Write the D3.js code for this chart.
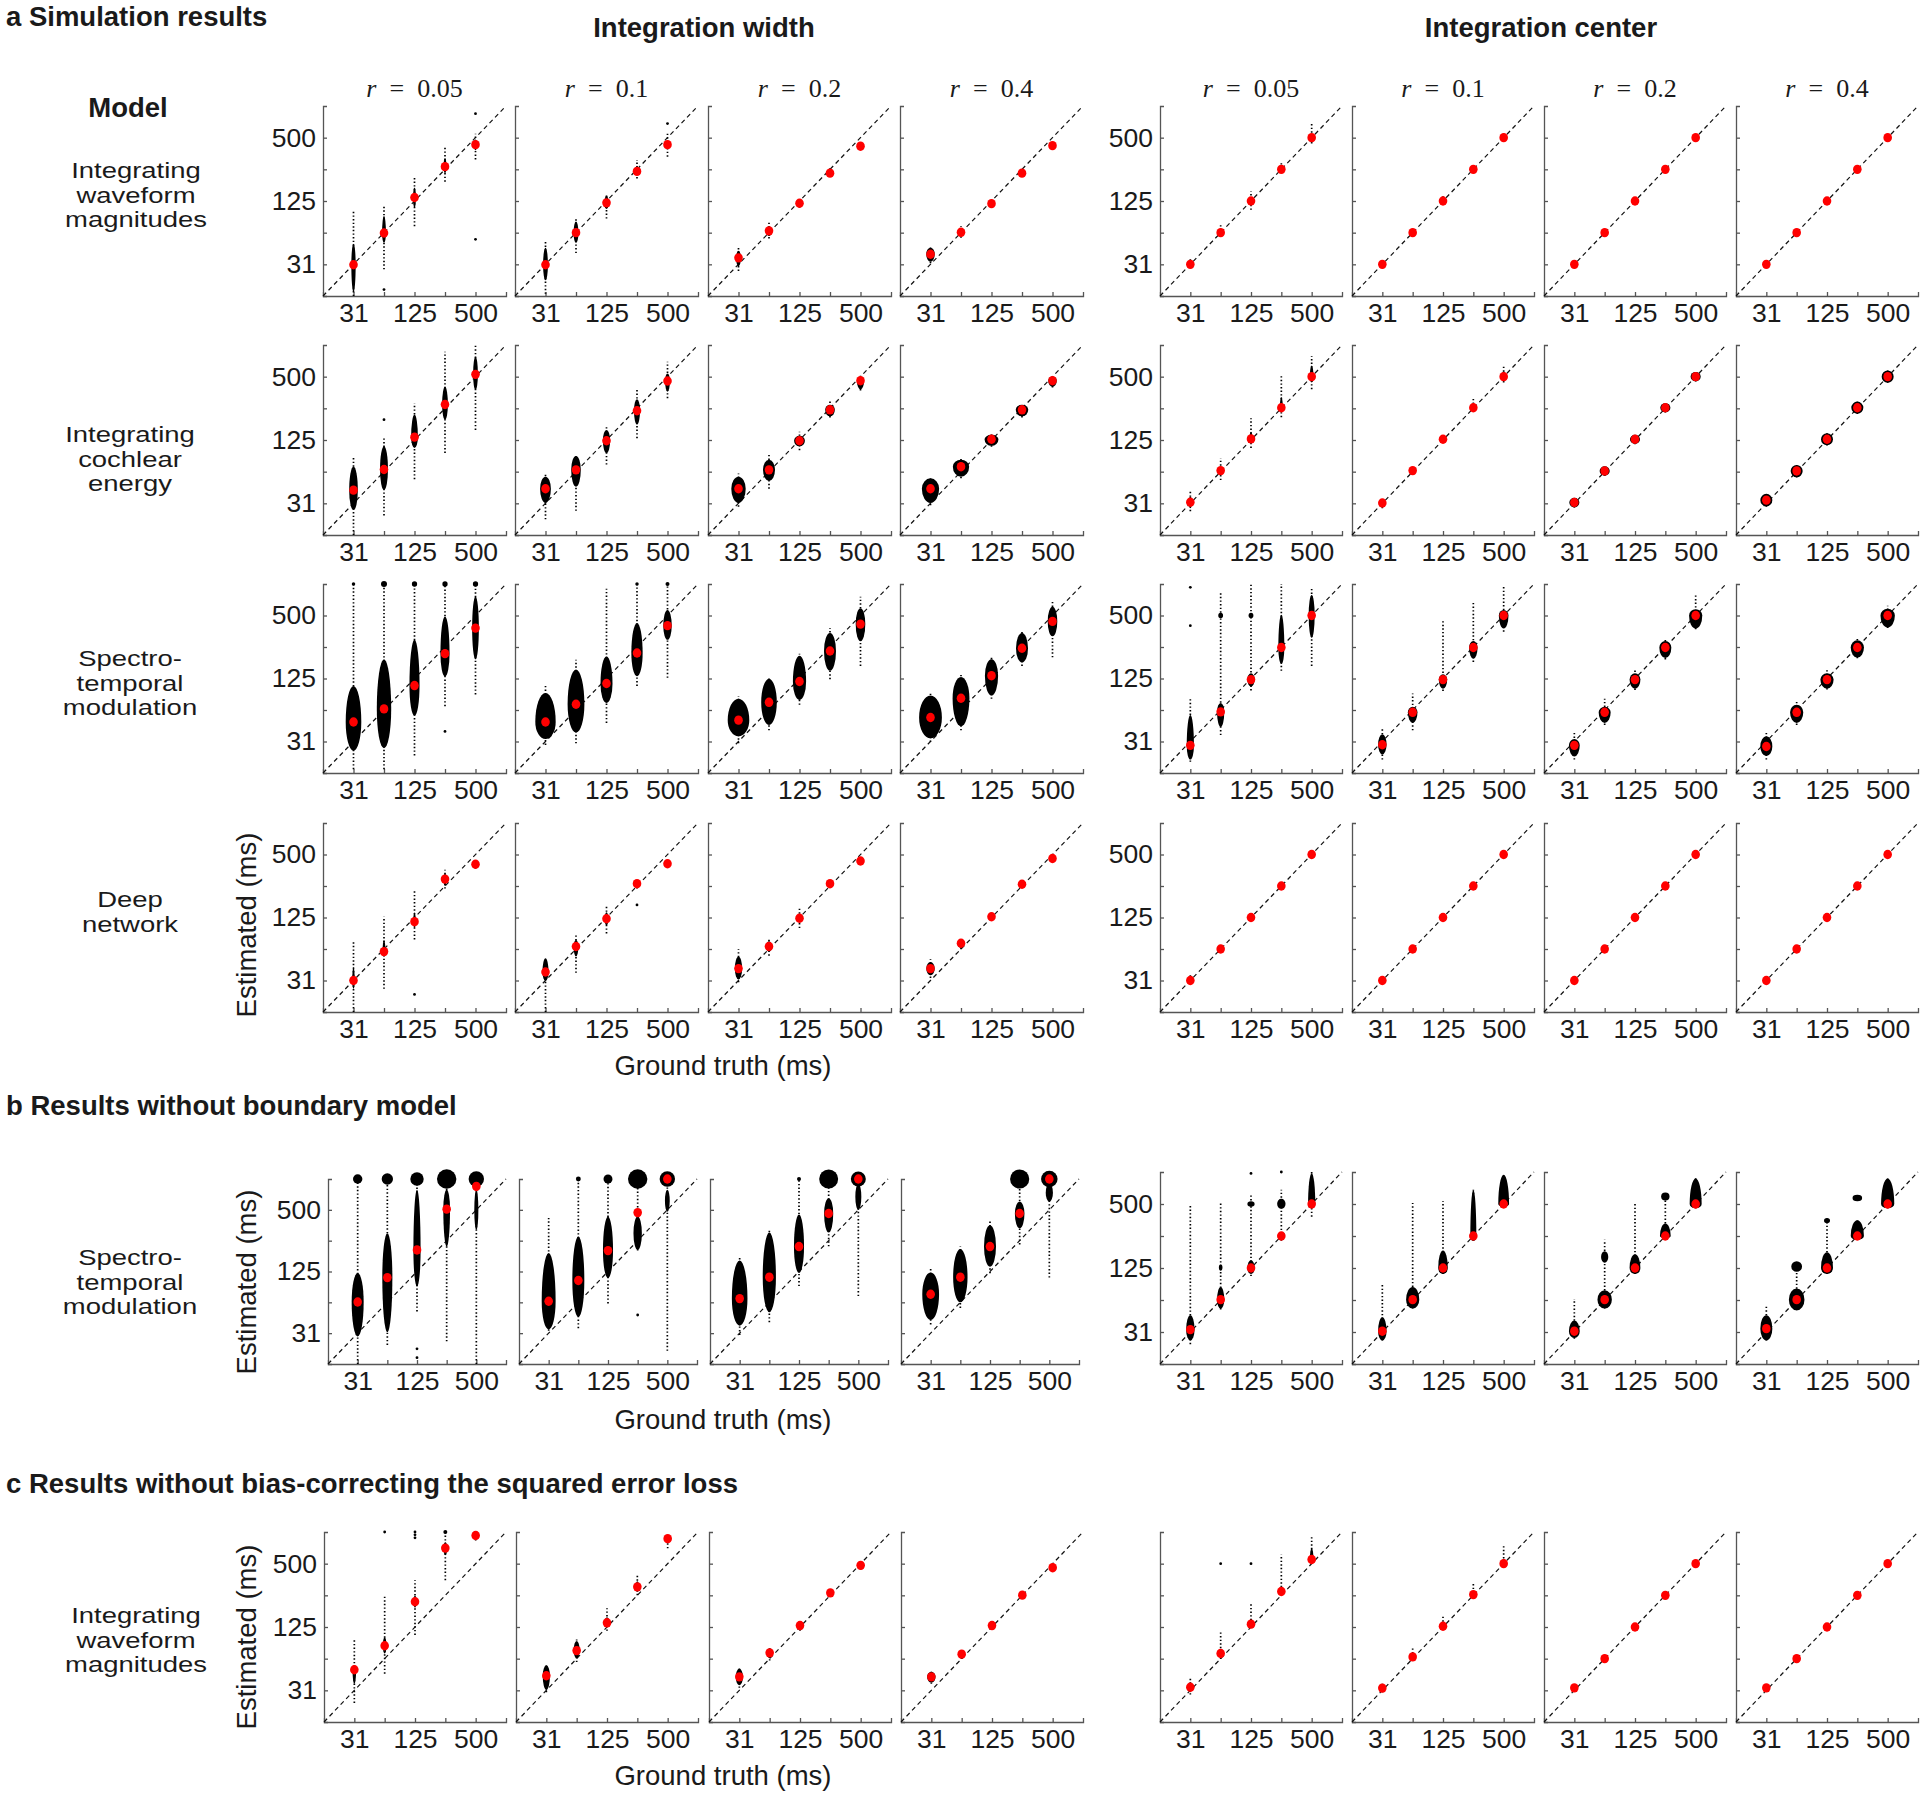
<!DOCTYPE html>
<html><head><meta charset="utf-8">
<script src="https://cdn.jsdelivr.net/npm/d3@7"></script>
<style>
body{margin:0;background:#fff}
svg{display:block}
text{font-family:"Liberation Sans",Arial,Helvetica,sans-serif;fill:#1a1a1a}
</style>
</head><body>
<svg id="chart" width="1920" height="1798"></svg>
<script>
// ---------------- DATA ----------------
const GT = [31.25, 62.5, 125, 250, 500];          // ground truth (ms)
const tickLabels = ["31", "", "125", "", "500"];
const domainMs = [15.625, 1000];
const rValues = ["0.05", "0.1", "0.2", "0.4"];
const groupTitles = ["Integration width", "Integration center"];
const sectionTitles = ["a Simulation results", "b Results without boundary model", "c Results without bias-correcting the squared error loss"];
const rowLabels = [
  ["Integrating", "waveform", "magnitudes"],
  ["Integrating", "cochlear", "energy"],
  ["Spectro-", "temporal", "modulation"],
  ["Deep", "network"],
  ["Spectro-", "temporal", "modulation"],
  ["Integrating", "waveform", "magnitudes"]
];
// panels: 0-3 integration width (r=0.05..0.4), 4-7 integration center
// median estimate per ground truth
// spread per ground truth: [range low, range high, dense low, dense high, relative density]
const a1Med = [
  [31, 62, 135, 265, 429], [31, 62.5, 120, 239, 429], [36, 65, 119, 230, 415], [39, 63, 118, 230, 420],
  [31.25, 62.5, 125, 250, 500], [31.25, 62.5, 125, 250, 500], [31.25, 62.5, 125, 250, 500], [31.25, 62.5, 125, 250, 500]
];
const a1Spread = [
  [[15.6,102,17,49,0.18],[28,110,50,90,0.16],[72,213,108,168,0.12],[191,400,230,320,0.12],[310,545,380,480,0.1]],
  [[16.4,53,22,45,0.2],[40,88,50,80,0.2],[85,147,105,140,0.18],[205,307,220,270,0.15],[330,545,390,470,0.1]],
  [[27,45,30,42,0.2],[55,78,58,72,0.2],[108,135,112,128,0.15],[212,262,218,245,0.15],[385,450,395,435,0.12]],
  [[32,47,33,45,0.35],[56,72,58,69,0.25],[112,128,113,125,0.15],[220,245,222,240,0.15],[400,435,405,428,0.1]],
  [[29,36,30,33,0.1],[61,75,61,66,0.1],[103,155,118,132,0.1],[237,300,245,265,0.1],[440,680,470,540,0.12]],
  [[30,33,30,32.5,0.1],[60,68,61,64,0.1],[115,140,120,132,0.1],[245,258,246,254,0.1],[490,560,492,520,0.1]],
  [[30,32.5,30.5,32,0.1],[61,64,61.5,63.5,0.1],[122,128,123,127,0.1],[244,256,246,254,0.1],[488,512,492,508,0.1]],
  [[30,32.5,30.5,32,0.1],[61,64,61.5,63.5,0.1],[122,128,123,127,0.1],[244,256,246,254,0.1],[488,512,492,508,0.1]]
];
const a2Med = [
  [41.7, 65.5, 133, 272, 526], [43, 65, 123, 237, 455], [43, 65, 123, 242, 458], [43, 69.7, 127, 242, 458],
  [32, 64, 128, 253, 500], [31.5, 64, 127, 253, 500], [31.8, 63.5, 127, 253, 500], [33.5, 63.5, 127, 253, 500]
];
const a2Spread = [
  [[15.6,87,27,70,0.36],[24,130,42,109,0.33],[53,280,105,218,0.28],[94,865,195,400,0.24],[156,1000,374,774,0.2]],
  [[22,61,31.5,56,0.45],[26.5,88,45,88,0.4],[73,168,94,156,0.3],[130,375,175,305,0.25],[312,693,360,536,0.2]],
  [[29,60,31.5,56,0.6],[43,90,51,81,0.5],[100,150,109,137,0.45],[205,290,210,270,0.4],[370,510,380,500,0.3]],
  [[30,56,31.5,54,0.72],[54,84,56,81,0.68],[108,142,110,140,0.58],[205,275,210,270,0.52],[395,505,400,500,0.35]],
  [[26.3,41,28,36,0.12],[52,84,58,70,0.12],[105,201,118,150,0.12],[206,520,235,320,0.12],[380,785,440,640,0.15]],
  [[28,34,29,33,0.12],[59,68,60,67,0.12],[118,133,119,132,0.12],[235,310,240,275,0.12],[440,645,470,560,0.15]],
  [[28.5,35.5,28.6,35.3,0.42],[57,70.5,57.2,70.2,0.42],[114,141,114.5,140,0.42],[228,281,229,280,0.42],[450,556,452,554,0.42]],
  [[29,39,29.2,38.5,0.5],[55,73,55.3,72.5,0.5],[111,146,111.5,145,0.5],[221,291,222,290,0.5],[437,575,438,572,0.5]]
];
const a3Med = [
  [48, 64, 107, 216, 379], [48, 71, 112, 219, 400], [50, 74, 117, 229, 414], [53, 81, 133, 243, 439],
  [28.7, 60, 122, 247, 500], [29.1, 59.4, 122, 247, 500], [28.7, 59.4, 122, 247, 500], [28, 59.4, 122, 247, 500]
];
const a3Spread = [
  [[17,1000,25.6,106,0.65],[17,1000,27,190,0.6],[23,1000,55,293,0.42],[68,1000,131,490,0.38],[88,1000,190,758,0.28]],
  [[29,110,33,91,0.85],[30,189,38,152,0.7],[47,900,73,203,0.5],[106,1000,131,423,0.47],[127,1000,293,565,0.35]],
  [[30,85,35,80,0.9],[40,130,45,124,0.65],[70,215,78,206,0.55],[123,380,148,341,0.5],[165,757,283,587,0.4]],
  [[31,90,33.5,86,0.95],[40,135,43.6,129,0.7],[80,200,86,191,0.55],[165,355,178,341,0.5],[199,700,316,607,0.4]],
  [[20,83,21,56,0.3],[36,850,43,73,0.3],[96,1000,105,140,0.3],[148,1000,172,507,0.25],[165,940,306,784,0.25]],
  [[21,42,23.5,36.6,0.35],[40,90,47,67,0.4],[95,441,100,137,0.35],[180,677,193,285,0.35],[350,940,375,565,0.4]],
  [[21,38,22.5,33,0.45],[45,80,47,67,0.5],[97,150,100,140,0.45],[190,300,196,285,0.5],[370,812,375,575,0.55]],
  [[21,38,22.7,35,0.5],[45,75,47,70,0.55],[98,150,100,140,0.55],[195,300,198,290,0.55],[380,620,385,580,0.6]]
];
const a4Med = [
  [31.25, 59, 114, 291, 403], [37.7, 66, 121.7, 263, 408], [40.6, 66, 123, 263, 433], [40.6, 71, 127, 260, 458],
  [31.25, 62.5, 125, 250, 500], [31.25, 62.5, 125, 250, 500], [31.25, 62.5, 125, 250, 500], [31.25, 62.5, 125, 250, 500]
];
const a4Spread = [
  [[15.6,76,26,42,0.1],[26,128,53,76,0.12],[77,228,100,140,0.1],[236,358,250,330,0.12],[365,452,380,430,0.1]],
  [[15.6,51,31,51,0.25],[37,88,53,76,0.2],[88,158,105,140,0.15],[236,280,245,275,0.12],[390,430,395,425,0.1]],
  [[30,62,32,53,0.3],[54,80,59,74,0.25],[99,158,112,135,0.15],[240,285,245,275,0.12],[410,455,415,450,0.1]],
  [[33,50,35,47,0.35],[62,76,64,74,0.3],[120,135,120,134,0.15],[248,272,250,270,0.12],[445,470,448,468,0.1]],
  [[29,36,30,33,0.1],[59,68,60,65,0.1],[118,135,120,130,0.1],[240,265,244,258,0.1],[480,530,488,515,0.1]],
  [[30,32.5,30.5,32,0.1],[61,64,61.5,63.5,0.1],[122,128,123,127,0.1],[244,256,246,254,0.1],[488,512,492,508,0.1]],
  [[30,32.5,30.5,32,0.1],[61,64,61.5,63.5,0.1],[122,128,123,127,0.1],[244,256,246,254,0.1],[488,512,492,508,0.1]],
  [[30,32.5,30.5,32,0.1],[61,64,61.5,63.5,0.1],[122,128,123,127,0.1],[244,256,246,254,0.1],[488,512,492,508,0.1]]
];
const bMed = [
  [63, 109, 203, 508, 846], [64, 102, 200, 470, 1000], [68, 110, 219, 460, 1000], [75, 110, 219, 460, 1000],
  [32.9, 63, 125, 250, 500], [31.8, 63, 125, 250, 500], [31.8, 63, 125, 250, 500], [33.6, 63, 125, 250, 500]
];
const bSpread = [
  [[15.6,1000,29,121,0.5],[24,1000,32,295,0.42],[51,1000,89,785,0.3],[26,1000,219,784,0.28],[15.6,1000,318,784,0.17]],
  [[33,415,34,189,0.58],[35,1000,45,274,0.5],[61,1000,108,430,0.42],[200,1000,203,430,0.35],[21,1000,480,785,0.2]],
  [[30,170,37,160,0.65],[40,320,50,300,0.55],[90,1000,121,450,0.42],[220,1000,300,650,0.38],[72,1000,500,900,0.25]],
  [[38,135,42,122,0.7],[55,220,62.5,207,0.6],[120,400,139,354,0.5],[230,1000,330,600,0.4],[109,1000,600,900,0.3]],
  [[24,490,26,45,0.35],[51,511,52,83,0.3],[105,600,110,148,0.3],[225,680,235,270,0.3],[380,1000,470,972,0.3]],
  [[26,89,26,43,0.35],[52,511,52,83,0.55],[110,530,110,183,0.4],[225,680,225,680,0.25],[470,940,470,940,0.45]],
  [[27,64,27.5,40,0.45],[52,230,52,77,0.6],[110,506,110,168,0.45],[240,600,240,327,0.45],[455,900,455,870,0.5]],
  [[26,56,26,45,0.5],[50,140,50,80,0.65],[110,370,110,176,0.5],[230,352,230,352,0.55],[455,870,455,870,0.55]]
];
const cMed = [
  [49, 83, 217, 703, 926], [43, 74.6, 137, 301, 865], [42, 71, 129, 264, 482], [42, 69, 129, 251, 458],
  [33.4, 70, 133, 272, 548], [32.8, 65, 127, 254, 500], [33, 62.5, 125, 250, 500], [33, 62.5, 125, 250, 500]
];
const cSpread = [
  [[23.7,97,36,54,0.15],[45,250,70,100,0.15],[105,348,190,250,0.12],[348,1000,600,800,0.15],[830,1000,880,980,0.12]],
  [[30,54,31.5,54,0.3],[58,95,63,92,0.25],[115,188,125,155,0.2],[251,388,270,340,0.15],[700,950,800,920,0.12]],
  [[33,52,35,50,0.3],[60,82,63,78,0.2],[115,145,118,140,0.15],[245,285,250,280,0.12],[440,520,455,510,0.12]],
  [[36,48,37,47,0.35],[62,76,63,74,0.25],[118,140,120,137,0.15],[240,262,243,258,0.1],[440,475,445,470,0.1]],
  [[28.5,42,30,37,0.12],[62,112,65,76,0.12],[124,207,128,150,0.12],[255,612,262,300,0.12],[500,890,520,700,0.15]],
  [[30,36,31,35,0.1],[60,78,62,68,0.1],[120,161,122,132,0.1],[245,330,248,265,0.1],[480,735,490,560,0.12]],
  [[31,35,31.5,34.5,0.1],[61,64,61.5,63.5,0.1],[122,128,123,127,0.1],[244,256,246,254,0.1],[488,512,492,508,0.1]],
  [[31,35,31.5,34.5,0.1],[61,64,61.5,63.5,0.1],[122,128,123,127,0.1],[244,256,246,254,0.1],[488,512,492,508,0.1]]
];
// saturated estimates piled at the top of the range: [row, panel, gt index, relative count]
const topCaps = [
  [2,0,0,0.03],[2,0,1,0.09],[2,0,2,0.07],[2,0,3,0.07],[2,0,4,0.07],[2,1,3,0.03],[2,1,4,0.04],
  [4,0,0,0.22],[4,0,1,0.32],[4,0,2,0.45],[4,0,3,0.94],[4,0,4,0.59],
  [4,1,1,0.06],[4,1,2,0.2],[4,1,3,0.94],[4,1,4,0.59],
  [4,2,2,0.04],[4,2,3,0.9],[4,2,4,0.56],
  [4,3,3,0.92],[4,3,4,0.68],
  [5,0,3,0.04]
];
// secondary dense clusters: [row, panel, gt index, low, high, relative density]
const extraClusters = [
  [2,4,1,470,530,0.2],[2,4,2,470,530,0.2],
  [4,4,1,118,135,0.15],[4,4,2,470,530,0.3],[4,4,3,450,560,0.35],
  [4,6,1,140,180,0.3],[4,6,3,540,640,0.35],
  [4,7,1,115,145,0.45],[4,7,2,330,370,0.25],[4,7,3,530,610,0.4]
];
// isolated estimates: [row, panel, gt index, value]
const isolated = [
  [0,0,1,18],[0,0,4,846],[0,0,4,54],[0,1,4,680],
  [1,0,1,195],[2,0,3,39],[2,4,0,930],[2,4,0,400],
  [3,0,2,23],[3,1,3,165],
  [4,0,2,22],[4,0,2,18],[4,1,3,47],[4,4,2,970],[4,4,3,1000],
  [5,0,1,1000],[5,0,2,1000],[5,0,2,940],[5,0,2,880],[5,4,1,500],[5,4,2,500]
];

// ---------------- LAYOUT ----------------
const rowData = [
  {med:a1Med, sp:a1Spread}, {med:a2Med, sp:a2Spread}, {med:a3Med, sp:a3Spread},
  {med:a4Med, sp:a4Spread}, {med:bMed, sp:bSpread}, {med:cMed, sp:cSpread}
];
const WL = [323, 515, 708, 900], CL = [1160, 1352, 1544, 1736];
const rowLayout = [
  {wt:106, wh:190, ct:106, ch:190, wl:WL, ww:183, lx:136, ly:178, yLabC:true},
  {wt:345, wh:190, ct:345, ch:190, wl:WL, ww:183, lx:130, ly:442, yLabC:true},
  {wt:584, wh:189, ct:584, ch:189, wl:WL, ww:183, lx:130, ly:666, yLabC:true},
  {wt:823, wh:189, ct:823, ch:189, wl:WL, ww:183, lx:130, ly:907, yLabC:true},
  {wt:1179, wh:185, ct:1172, ch:192, wl:[328,519,710,901], ww:178, lx:130, ly:1265, yLabC:true},
  {wt:1532, wh:190, ct:1532, ch:190, wl:[324,516,709,901], ww:182, lx:136, ly:1623, yLabC:false}
];
const CW = 182;

const svg = d3.select("#chart");
const densityToPx = d3.scaleLinear().domain([0, 1]).range([0, 12]);
const capRadius = d3.scaleSqrt().domain([0, 1]).range([0, 10]);
const FONT = '"Liberation Sans",Arial,Helvetica,sans-serif';

function corePath(xc, yLo, yM, yHi, hw) {
  const a1 = Math.max(0.01, yLo - yM), a2 = Math.max(0.01, yM - yHi);
  return `M${xc},${yLo}A${hw},${a1} 0 0 0 ${xc+hw},${yM}A${hw},${a2} 0 0 0 ${xc},${yHi}` +
         `A${hw},${a2} 0 0 0 ${xc-hw},${yM}A${hw},${a1} 0 0 0 ${xc},${yLo}Z`;
}
function coreCenter(m, lo, hi) {
  if (m > lo * 1.02 && m < hi / 1.02) return m;
  return Math.sqrt(lo * hi);
}

const panelInfo = {};
rowLayout.forEach((L, ri) => {
  const D = rowData[ri];
  for (let p = 0; p < 8; p++) {
    const isW = p < 4;
    const x0 = isW ? L.wl[p] : CL[p - 4];
    const w = isW ? L.ww : CW;
    const top = isW ? L.wt : L.ct;
    const h = isW ? L.wh : L.ch;
    const x = d3.scaleLog().base(2).domain(domainMs).range([x0, x0 + w]);
    const y = d3.scaleLog().base(2).domain(domainMs).range([top + h, top]);
    const showY = (p === 0) || (p === 4 && L.yLabC);
    const g = svg.append("g");

    const yAxis = d3.axisLeft(y).tickValues(GT).tickSize(-4).tickSizeOuter(-4).tickPadding(7)
      .tickFormat((d, i) => showY ? tickLabels[i] : "");
    const xAxis = d3.axisBottom(x).tickValues(GT).tickSize(-4).tickSizeOuter(-4).tickPadding(7)
      .tickFormat((d, i) => tickLabels[i]);
    [g.append("g").attr("transform", `translate(${x0},0)`).call(yAxis),
     g.append("g").attr("transform", `translate(0,${top + h})`).call(xAxis)].forEach(a => {
      a.attr("font-size", 26.5).attr("font-family", FONT);
      a.selectAll("path,line").attr("stroke", "#555").attr("stroke-width", 1.3);
      a.selectAll("text").attr("fill", "#1a1a1a");
    });

    g.append("line")
      .attr("x1", x(domainMs[0])).attr("y1", y(domainMs[0]))
      .attr("x2", x(domainMs[1])).attr("y2", y(domainMs[1]))
      .attr("stroke", "#111").attr("stroke-width", 1.2).attr("stroke-dasharray", "4.5,3.5");

    const gMarks = g.append("g");
    const gMed = g.append("g");
    const spread = D.sp[p], med = D.med[p];

    gMarks.selectAll(".wh").data(spread).join("line")
      .attr("x1", (d, i) => x(GT[i])).attr("x2", (d, i) => x(GT[i]))
      .attr("y1", d => y(d[0])).attr("y2", d => y(d[1]))
      .attr("stroke", "#000").attr("stroke-width", 1.7).attr("stroke-dasharray", "1.4,2.2");

    gMarks.selectAll(".core").data(spread).join("path")
      .attr("d", (d, i) => corePath(x(GT[i]), y(d[2]), y(coreCenter(med[i], d[2], d[3])), y(d[3]), Math.max(0.8, densityToPx(d[4]))))
      .attr("fill", "#000");

    gMed.selectAll("ellipse").data(med).join("ellipse")
      .attr("cx", (d, i) => x(GT[i])).attr("cy", d => y(d))
      .attr("rx", 4.3).attr("ry", 4.7).attr("fill", "#ff0000");

    panelInfo[ri + "_" + p] = {x, y, gMarks, x0, w, top, h};

    if (ri === 0) {
      const t = svg.append("text").attr("x", x0 + w / 2).attr("y", 97).attr("text-anchor", "middle")
        .attr("font-size", 26).style("font-family", '"Liberation Serif","Times New Roman",serif');
      t.append("tspan").attr("font-style", "italic").text("r");
      t.append("tspan").text("\u2002=\u2002" + rValues[p % 4]);
    }
  }
});

extraClusters.forEach(([ri, p, gi, lo, hi, dens]) => {
  const P = panelInfo[ri + "_" + p];
  P.gMarks.append("path").attr("d", corePath(P.x(GT[gi]), P.y(lo), P.y(Math.sqrt(lo * hi)), P.y(hi), densityToPx(dens))).attr("fill", "#000");
});
isolated.forEach(([ri, p, gi, v]) => {
  const P = panelInfo[ri + "_" + p];
  P.gMarks.append("circle").attr("cx", P.x(GT[gi])).attr("cy", P.y(v)).attr("r", 1.4).attr("fill", "#000");
});
topCaps.forEach(([ri, p, gi, c]) => {
  const P = panelInfo[ri + "_" + p];
  P.gMarks.append("circle").attr("cx", P.x(GT[gi])).attr("cy", P.y(domainMs[1])).attr("r", capRadius(c)).attr("fill", "#000");
});

// ---------------- TEXT ----------------
function txt(x, y, s, opt = {}) {
  const t = svg.append("text").attr("x", x).attr("y", y).text(s)
    .attr("font-size", opt.size || 27.5).attr("text-anchor", opt.anchor || "start")
    .attr("font-weight", opt.bold ? "bold" : "normal");
  if (opt.rotate) t.attr("transform", `rotate(-90,${x},${y})`);
  return t;
}
txt(6, 26, sectionTitles[0], {bold: true});
txt(6, 1115, sectionTitles[1], {bold: true});
txt(6, 1493, sectionTitles[2], {bold: true});
txt(704, 37, groupTitles[0], {bold: true, anchor: "middle"});
txt(1541, 37, groupTitles[1], {bold: true, anchor: "middle"});
txt(128, 117, "Model", {bold: true, anchor: "middle"});

// multi-line row labels: tight line spacing, glyphs widened horizontally like the reference
const LABEL_FS = 21.8, LABEL_LH = 24.6;
rowLayout.forEach((L, ri) => {
  rowLabels[ri].forEach((s, k) => {
    svg.append("text")
      .attr("transform", `translate(${L.lx},${L.ly + k * LABEL_LH}) scale(1.26,1)`)
      .attr("x", 0).attr("y", 0)
      .attr("font-size", LABEL_FS).attr("text-anchor", "middle").text(s);
  });
});

[925, 1282, 1637].forEach(cy => txt(256, cy, "Estimated (ms)", {anchor: "middle", rotate: true}));
[1075, 1429, 1785].forEach(by => txt(723, by, "Ground truth (ms)", {anchor: "middle"}));
</script>
</body></html>
